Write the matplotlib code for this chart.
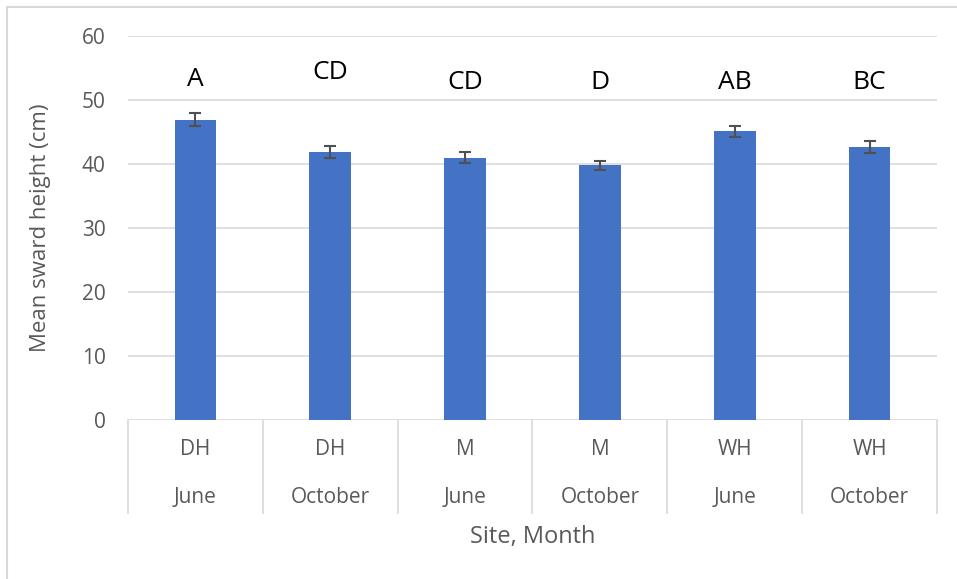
import numpy as np
import matplotlib.pyplot as plt
from matplotlib.lines import Line2D
from matplotlib.transforms import blended_transform_factory

plt.rcParams['font.family'] = ['Open Sans', 'DejaVu Sans']

sites = ["DH", "DH", "M", "M", "WH", "WH"]
months = ["June", "October", "June", "October", "June", "October"]
heights = [46.9, 41.9, 41.0, 39.8, 45.1, 42.7]
errors = [1.0, 0.9, 0.85, 0.7, 0.85, 0.95]
letters = ["A", "CD", "CD", "D", "AB", "BC"]
letter_y = [53.2, 54.3, 52.8, 52.8, 52.8, 52.8]

text_grey = "#595959"
grid_grey = "#D9D9D9"

fig = plt.figure(figsize=(9.57, 5.79), dpi=100)
ax = fig.add_axes([128 / 957, 1 - 420 / 579, (937 - 128) / 957, 384 / 579])

x = np.arange(len(heights))
ax.bar(x, heights, width=0.31, color="#4472C4", zorder=3)
ax.errorbar(x, heights, yerr=errors, fmt="none", ecolor="#505050",
            elinewidth=1.5, capsize=4.5, capthick=1.5, zorder=4)

for xi, lab, ly in zip(x, letters, letter_y):
    ax.text(xi, ly, lab, ha="center", va="center", fontsize=19, color="black")

ax.set_xlim(-0.5, len(heights) - 0.5)
ax.set_ylim(0, 60)
ax.set_yticks(range(0, 61, 10))
ax.yaxis.grid(True, color=grid_grey, linewidth=1.2, zorder=0)
ax.tick_params(axis="y", length=0, labelsize=15, labelcolor=text_grey, pad=16)
ax.set_xticks([])
for s in ax.spines.values():
    s.set_visible(False)
ax.set_ylabel("Mean sward height (cm)", fontsize=16, color=text_grey, labelpad=22)

# multi-level category axis
trans = blended_transform_factory(ax.transData, ax.transAxes)
for b in np.arange(-0.5, len(heights), 1.0):
    ax.add_line(Line2D([b, b], [0, -0.243], transform=trans, color=grid_grey,
                       linewidth=1.2, clip_on=False))
for xi, s, m in zip(x, sites, months):
    ax.text(xi, -0.078, s, transform=trans, ha="center", va="center",
            fontsize=15, color=text_grey)
    ax.text(xi, -0.203, m, transform=trans, ha="center", va="center",
            fontsize=15, color=text_grey)
ax.text(0.5, -0.305, "Site, Month", transform=ax.transAxes, ha="center",
        va="center", fontsize=17, color=text_grey)

# chart frame
fig.add_artist(Line2D([7 / 957, 7 / 957], [0, 1 - 7 / 579], color=grid_grey,
                      linewidth=1.5, transform=fig.transFigure))
fig.add_artist(Line2D([7 / 957, 1], [1 - 7 / 579, 1 - 7 / 579], color=grid_grey,
                      linewidth=1.5, transform=fig.transFigure))

fig.savefig("out.png", dpi=100)
